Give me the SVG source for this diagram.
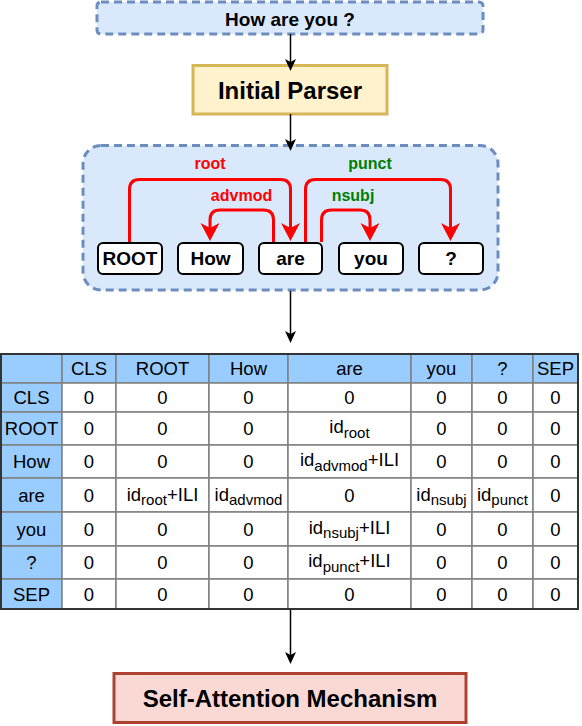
<svg xmlns="http://www.w3.org/2000/svg" width="582" height="726" viewBox="0 0 582 726">
<style>
.lbl{font-family:"Liberation Sans",Arial,sans-serif;font-weight:bold;fill:#000;text-anchor:middle}
.word{fill:#fff;stroke:#000;stroke-width:2}
.arc{fill:none;stroke:#ff0000;stroke-width:3;marker-end:url(#ra)}
.conn{fill:none;stroke:#000;stroke-width:1.5;marker-end:url(#ba)}
.red{font-family:"Liberation Sans",Arial,sans-serif;font-weight:bold;font-size:16px;fill:#ff0000;text-anchor:middle}
.grn{font-family:"Liberation Sans",Arial,sans-serif;font-weight:bold;font-size:16px;fill:#007f00;text-anchor:middle}
.cell{fill:#fff;stroke:#808080;stroke-width:1.5}
.hcell{fill:#99ccff;stroke:#808080;stroke-width:1.5}
.t{font-family:"Liberation Sans",Arial,sans-serif;font-size:18.5px;fill:#000;text-anchor:middle}
.s{font-size:15px}
.dash{fill:#dae8fc;stroke:#6c8ebf;stroke-width:3;stroke-dasharray:8 5}
</style>
<defs>
<marker id="ra" markerUnits="userSpaceOnUse" markerWidth="20" markerHeight="20" refX="5" refY="9.5" orient="auto">
<path d="M0,0 L18,9.5 L0,19 L5,9.5 Z" fill="#ff0000"/>
</marker>
<marker id="ba" markerUnits="userSpaceOnUse" markerWidth="14" markerHeight="12" refX="3" refY="5.5" orient="auto">
<path d="M0,0 L12,5.5 L0,11 L3,5.5 Z" fill="#000"/>
</marker>
</defs>

<g id="input">
<rect class="dash" x="97" y="2" width="386" height="32" rx="4"/>
<text class="lbl" x="290" y="26" font-size="19">How are you ?</text>
</g>

<g id="parser">
<rect x="193" y="65.5" width="194" height="48.5" fill="#fff2cc" stroke="#d6b656" stroke-width="3"/>
<text class="lbl" x="290" y="99" font-size="24">Initial Parser</text>
</g>

<g id="dependency-tree">
<rect class="dash" x="83" y="145.5" width="415" height="144.5" rx="18"/>
<g id="w-root"><rect class="word" x="98" y="243" width="64" height="31" rx="5"/><text class="lbl" x="130" y="265" font-size="19">ROOT</text></g>
<g id="w-how"><rect class="word" x="178" y="243" width="65" height="31" rx="5"/><text class="lbl" x="210.5" y="265" font-size="19">How</text></g>
<g id="w-are"><rect class="word" x="259" y="243" width="63" height="31" rx="5"/><text class="lbl" x="290.5" y="265" font-size="19">are</text></g>
<g id="w-you"><rect class="word" x="339" y="243" width="64" height="31" rx="5"/><text class="lbl" x="371" y="265" font-size="19">you</text></g>
<g id="w-q"><rect class="word" x="419" y="243" width="64" height="31" rx="5"/><text class="lbl" x="451" y="265" font-size="19">?</text></g>
<g id="arcs">
<path class="arc" d="M129.5,242 V189.5 Q129.5,179.5 139.5,179.5 H280.5 Q290.5,179.5 290.5,189.5 V228"/>
<path class="arc" d="M273.5,242 V220 Q273.5,210 263.5,210 H220 Q210,210 210,220 V228"/>
<path class="arc" d="M305.5,242 V189.5 Q305.5,179.5 315.5,179.5 H440.5 Q450.5,179.5 450.5,189.5 V228"/>
<path class="arc" d="M321.5,242 V220 Q321.5,210 331.5,210 H360 Q370,210 370,220 V228"/>
<text class="red" x="210" y="169">root</text>
<text class="red" x="241.5" y="201">advmod</text>
<text class="grn" x="370" y="169">punct</text>
<text class="grn" x="353" y="201">nsubj</text>
</g>
</g>

<g id="connectors">
<path class="conn" d="M290.5,34 V62"/>
<path class="conn" d="M290.5,114 V142"/>
<path class="conn" d="M290.5,291 V334"/>
<path class="conn" d="M290.5,610 V655"/>
</g>

<g id="matrix">
<g id="header">
<rect class="hcell" x="1" y="354" width="61" height="29"/>
<rect class="hcell" x="62" y="354" width="54" height="29"/>
<rect class="hcell" x="116" y="354" width="93" height="29"/>
<rect class="hcell" x="209" y="354" width="79" height="29"/>
<rect class="hcell" x="288" y="354" width="123" height="29"/>
<rect class="hcell" x="411" y="354" width="61" height="29"/>
<rect class="hcell" x="472" y="354" width="61" height="29"/>
<rect class="hcell" x="533" y="354" width="45" height="29"/>
<rect class="hcell" x="1" y="383" width="61" height="29"/>
<rect class="hcell" x="1" y="412" width="61" height="33"/>
<rect class="hcell" x="1" y="445" width="61" height="33"/>
<rect class="hcell" x="1" y="478" width="61" height="34"/>
<rect class="hcell" x="1" y="512" width="61" height="34"/>
<rect class="hcell" x="1" y="546" width="61" height="33"/>
<rect class="hcell" x="1" y="579" width="61" height="30"/>
</g>
<g id="body">
<rect class="cell" x="62" y="383" width="54" height="29"/><rect class="cell" x="116" y="383" width="93" height="29"/><rect class="cell" x="209" y="383" width="79" height="29"/><rect class="cell" x="288" y="383" width="123" height="29"/><rect class="cell" x="411" y="383" width="61" height="29"/><rect class="cell" x="472" y="383" width="61" height="29"/><rect class="cell" x="533" y="383" width="45" height="29"/>
<rect class="cell" x="62" y="412" width="54" height="33"/><rect class="cell" x="116" y="412" width="93" height="33"/><rect class="cell" x="209" y="412" width="79" height="33"/><rect class="cell" x="288" y="412" width="123" height="33"/><rect class="cell" x="411" y="412" width="61" height="33"/><rect class="cell" x="472" y="412" width="61" height="33"/><rect class="cell" x="533" y="412" width="45" height="33"/>
<rect class="cell" x="62" y="445" width="54" height="33"/><rect class="cell" x="116" y="445" width="93" height="33"/><rect class="cell" x="209" y="445" width="79" height="33"/><rect class="cell" x="288" y="445" width="123" height="33"/><rect class="cell" x="411" y="445" width="61" height="33"/><rect class="cell" x="472" y="445" width="61" height="33"/><rect class="cell" x="533" y="445" width="45" height="33"/>
<rect class="cell" x="62" y="478" width="54" height="34"/><rect class="cell" x="116" y="478" width="93" height="34"/><rect class="cell" x="209" y="478" width="79" height="34"/><rect class="cell" x="288" y="478" width="123" height="34"/><rect class="cell" x="411" y="478" width="61" height="34"/><rect class="cell" x="472" y="478" width="61" height="34"/><rect class="cell" x="533" y="478" width="45" height="34"/>
<rect class="cell" x="62" y="512" width="54" height="34"/><rect class="cell" x="116" y="512" width="93" height="34"/><rect class="cell" x="209" y="512" width="79" height="34"/><rect class="cell" x="288" y="512" width="123" height="34"/><rect class="cell" x="411" y="512" width="61" height="34"/><rect class="cell" x="472" y="512" width="61" height="34"/><rect class="cell" x="533" y="512" width="45" height="34"/>
<rect class="cell" x="62" y="546" width="54" height="33"/><rect class="cell" x="116" y="546" width="93" height="33"/><rect class="cell" x="209" y="546" width="79" height="33"/><rect class="cell" x="288" y="546" width="123" height="33"/><rect class="cell" x="411" y="546" width="61" height="33"/><rect class="cell" x="472" y="546" width="61" height="33"/><rect class="cell" x="533" y="546" width="45" height="33"/>
<rect class="cell" x="62" y="579" width="54" height="30"/><rect class="cell" x="116" y="579" width="93" height="30"/><rect class="cell" x="209" y="579" width="79" height="30"/><rect class="cell" x="288" y="579" width="123" height="30"/><rect class="cell" x="411" y="579" width="61" height="30"/><rect class="cell" x="472" y="579" width="61" height="30"/><rect class="cell" x="533" y="579" width="45" height="30"/>
</g>
<rect x="1" y="354" width="577" height="255" fill="none" stroke="#333" stroke-width="2"/>
<g id="labels">
<text class="t" x="89" y="375">CLS</text><text class="t" x="162.5" y="375">ROOT</text><text class="t" x="248.5" y="375">How</text><text class="t" x="349.5" y="375">are</text><text class="t" x="441.5" y="375">you</text><text class="t" x="502.5" y="375">?</text><text class="t" x="555.5" y="375">SEP</text>
<text class="t" x="31.5" y="404">CLS</text><text class="t" x="31.5" y="435">ROOT</text><text class="t" x="31.5" y="468">How</text><text class="t" x="31.5" y="501.5">are</text><text class="t" x="31.5" y="535.5">you</text><text class="t" x="31.5" y="569">?</text><text class="t" x="31.5" y="600.5">SEP</text>
</g>
<g id="values">
<text class="t" x="89" y="404">0</text><text class="t" x="162.5" y="404">0</text><text class="t" x="248.5" y="404">0</text><text class="t" x="349.5" y="404">0</text><text class="t" x="441.5" y="404">0</text><text class="t" x="502.5" y="404">0</text><text class="t" x="555.5" y="404">0</text>
<text class="t" x="89" y="435">0</text><text class="t" x="162.5" y="435">0</text><text class="t" x="248.5" y="435">0</text><text class="t" x="349.5" y="433">id<tspan class="s" dy="4.5">root</tspan></text><text class="t" x="441.5" y="435">0</text><text class="t" x="502.5" y="435">0</text><text class="t" x="555.5" y="435">0</text>
<text class="t" x="89" y="468">0</text><text class="t" x="162.5" y="468">0</text><text class="t" x="248.5" y="468">0</text><text class="t" x="349.5" y="466">id<tspan class="s" dy="4.5">advmod</tspan><tspan dy="-4.5">+ILI</tspan></text><text class="t" x="441.5" y="468">0</text><text class="t" x="502.5" y="468">0</text><text class="t" x="555.5" y="468">0</text>
<text class="t" x="89" y="501.5">0</text><text class="t" x="162.5" y="500.5">id<tspan class="s" dy="4.5">root</tspan><tspan dy="-4.5">+ILI</tspan></text><text class="t" x="248.5" y="500.5">id<tspan class="s" dy="4.5">advmod</tspan></text><text class="t" x="349.5" y="501.5">0</text><text class="t" x="441.5" y="500.5">id<tspan class="s" dy="4.5">nsubj</tspan></text><text class="t" x="502.5" y="500.5">id<tspan class="s" dy="4.5">punct</tspan></text><text class="t" x="555.5" y="501.5">0</text>
<text class="t" x="89" y="535.5">0</text><text class="t" x="162.5" y="535.5">0</text><text class="t" x="248.5" y="535.5">0</text><text class="t" x="349.5" y="533.5">id<tspan class="s" dy="4.5">nsubj</tspan><tspan dy="-4.5">+ILI</tspan></text><text class="t" x="441.5" y="535.5">0</text><text class="t" x="502.5" y="535.5">0</text><text class="t" x="555.5" y="535.5">0</text>
<text class="t" x="89" y="569">0</text><text class="t" x="162.5" y="569">0</text><text class="t" x="248.5" y="569">0</text><text class="t" x="349.5" y="567">id<tspan class="s" dy="4.5">punct</tspan><tspan dy="-4.5">+ILI</tspan></text><text class="t" x="441.5" y="569">0</text><text class="t" x="502.5" y="569">0</text><text class="t" x="555.5" y="569">0</text>
<text class="t" x="89" y="600.5">0</text><text class="t" x="162.5" y="600.5">0</text><text class="t" x="248.5" y="600.5">0</text><text class="t" x="349.5" y="600.5">0</text><text class="t" x="441.5" y="600.5">0</text><text class="t" x="502.5" y="600.5">0</text><text class="t" x="555.5" y="600.5">0</text>
</g>
</g>

<g id="self-attention">
<rect x="114" y="673.5" width="352" height="49" fill="#fad9d5" stroke="#ae4132" stroke-width="3"/>
<text class="lbl" x="290" y="707" font-size="24">Self-Attention Mechanism</text>
</g>
</svg>
